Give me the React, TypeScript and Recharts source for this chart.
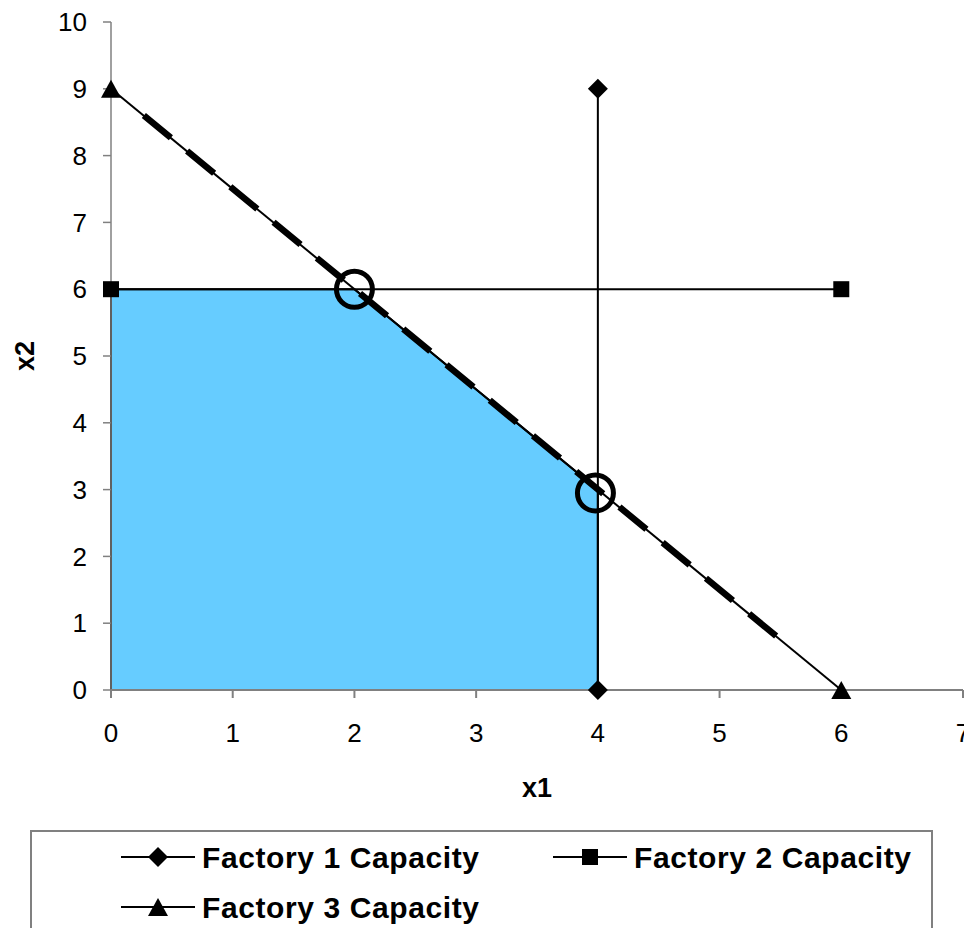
import { ComposedChart, Line, Area, Scatter, XAxis, YAxis } from 'recharts';

const xTicks = [0, 1, 2, 3, 4, 5, 6, 7];
const yTicks = [0, 1, 2, 3, 4, 5, 6, 7, 8, 9, 10];

const factory1 = [
  { x: 4, y: 0 },
  { x: 4, y: 9 },
];
const factory2 = [
  { x: 0, y: 6 },
  { x: 6, y: 6 },
];
const factory3 = [
  { x: 0, y: 9 },
  { x: 6, y: 0 },
];
// dashed iso-profit line laid over factory 3
const objective = [
  { x: 0.27, y: 8.6 },
  { x: 5.47, y: 0.8 },
];
const feasibleTop = [
  { x: 0, y: 6 },
  { x: 2, y: 6 },
  { x: 4, y: 3 },
];
const feasibleOutline = [
  { x: 0, y: 0 },
  { x: 0, y: 6 },
  { x: 2, y: 6 },
  { x: 4, y: 3 },
  { x: 4, y: 0 },
  { x: 0, y: 0 },
];
const corners = [
  { x: 2, y: 6 },
  { x: 3.98, y: 2.95 },
];

const legendItems = ['Factory 1 Capacity', 'Factory 2 Capacity', 'Factory 3 Capacity'];

const FONT = '"Liberation Sans", Arial, sans-serif';
const AXIS = '#808080';

const Diamond = ({ cx, cy }: any) => (
  <polygon points={`${cx},${cy - 10} ${cx + 10},${cy} ${cx},${cy + 10} ${cx - 10},${cy}`} fill="#000" />
);
const Square = ({ cx, cy }: any) => <rect x={cx - 8} y={cy - 8} width={16} height={16} fill="#000" />;
const Triangle = ({ cx, cy }: any) => (
  <polygon points={`${cx},${cy - 9} ${cx + 10},${cy + 9} ${cx - 10},${cy + 9}`} fill="#000" />
);
const markers = [Diamond, Square, Triangle];

function LegendBox() {
  const pos = [
    { lx: 91, ly: 27 },
    { lx: 523, ly: 27 },
    { lx: 91, ly: 77 },
  ];
  return (
    <div
      style={{
        position: 'absolute',
        left: 30,
        top: 830,
        width: 903,
        height: 98,
        borderTop: `2px solid ${AXIS}`,
        borderLeft: `2px solid ${AXIS}`,
        borderRight: `2px solid ${AXIS}`,
        boxSizing: 'border-box',
        background: '#fff',
      }}
    >
      <svg width={903} height={98} style={{ position: 'absolute', left: -2, top: -2 }}>
        {legendItems.map((name, i) => {
          const { lx, ly } = pos[i];
          const M = markers[i];
          return (
            <g key={name}>
              <line x1={lx} y1={ly} x2={lx + 74} y2={ly} stroke="#000" strokeWidth={2} />
              <M cx={lx + 37} cy={ly} />
              <text
                x={lx + 81}
                y={ly}
                dominantBaseline="central"
                fontFamily={FONT}
                fontWeight="bold"
                fontSize={30}
                letterSpacing={0.6}
                fill="#000"
              >
                {name}
              </text>
            </g>
          );
        })}
      </svg>
    </div>
  );
}

export default function App() {
  return (
    <div style={{ position: 'absolute', left: 0, top: 0, width: 964, height: 928, overflow: 'hidden', background: '#fff' }}>
      <ComposedChart width={964} height={810} margin={{ top: 22, right: 1, bottom: 0, left: 0 }}>
        <XAxis
          type="number"
          dataKey="x"
          domain={[0, 7]}
          ticks={xTicks}
          interval={0}
          tickSize={8}
          tickMargin={26}
          height={120}
          stroke={AXIS}
          strokeWidth={2}
          tick={{ fill: '#000', fontSize: 26, fontFamily: FONT }}
          label={{ value: 'x1', position: 'insideBottom', offset: 13, fill: '#000', fontSize: 27, fontWeight: 'bold', fontFamily: FONT }}
        />
        <YAxis
          type="number"
          dataKey="y"
          domain={[0, 10]}
          ticks={yTicks}
          interval={0}
          tickSize={8}
          tickMargin={16}
          width={111}
          stroke={AXIS}
          strokeWidth={1.5}
          tick={{ fill: '#000', fontSize: 26, fontFamily: FONT }}
          label={{
            content: () => (
              <text
                x={25}
                y={356}
                transform="rotate(-90 25 356)"
                textAnchor="middle"
                dominantBaseline="central"
                fontFamily={FONT}
                fontWeight="bold"
                fontSize={27}
                fill="#000"
              >
                x2
              </text>
            ),
          }}
        />
        <Area
          data={feasibleTop}
          dataKey="y"
          type="linear"
          fill="#66CCFF"
          fillOpacity={1}
          stroke="none"
          isAnimationActive={false}
        />
        <Line data={feasibleOutline} dataKey="y" type="linear" stroke="#000" strokeWidth={2} dot={false} isAnimationActive={false} />
        <Line
          data={factory1}
          dataKey="y"
          name="Factory 1 Capacity"
          type="linear"
          stroke="#000"
          strokeWidth={2}
          dot={(p: any) => <Diamond key={`d${p.index}`} cx={p.cx} cy={p.cy} />}
          isAnimationActive={false}
        />
        <Line
          data={factory2}
          dataKey="y"
          name="Factory 2 Capacity"
          type="linear"
          stroke="#000"
          strokeWidth={2}
          dot={(p: any) => <Square key={`s${p.index}`} cx={p.cx} cy={p.cy} />}
          isAnimationActive={false}
        />
        <Line
          data={factory3}
          dataKey="y"
          name="Factory 3 Capacity"
          type="linear"
          stroke="#000"
          strokeWidth={2}
          dot={(p: any) => <Triangle key={`t${p.index}`} cx={p.cx} cy={p.cy} />}
          isAnimationActive={false}
        />
        <Line
          data={objective}
          dataKey="y"
          type="linear"
          stroke="#000"
          strokeWidth={6.5}
          strokeDasharray="35 21"
          dot={false}
          isAnimationActive={false}
        />
        <Scatter
          data={corners}
          dataKey="y"
          isAnimationActive={false}
          shape={(p: any) => <circle cx={p.cx} cy={p.cy} r={18} fill="none" stroke="#000" strokeWidth={5} />}
        />
      </ComposedChart>
      <LegendBox />
    </div>
  );
}
